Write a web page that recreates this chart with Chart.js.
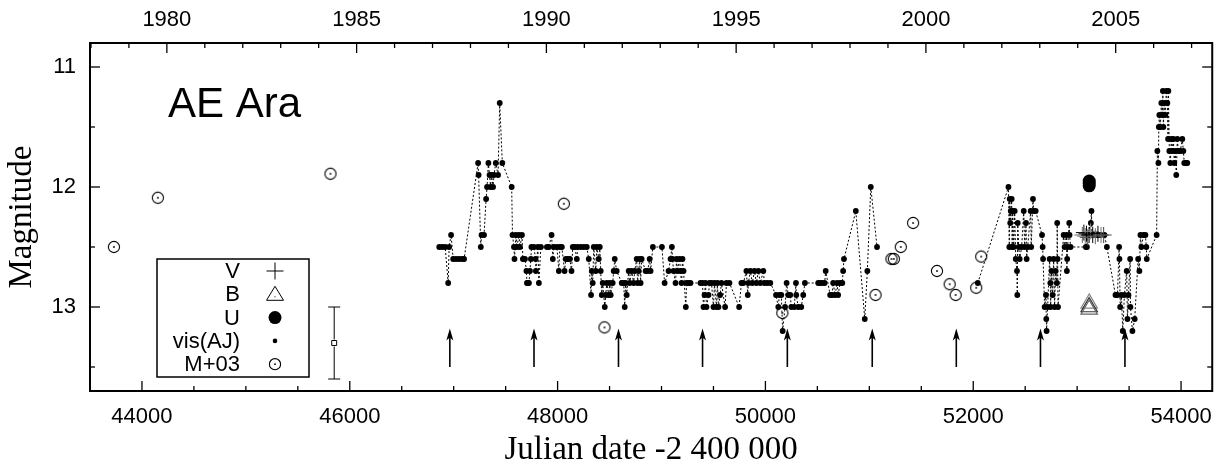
<!DOCTYPE html>
<html>
<head>
<meta charset="utf-8">
<script src="https://cdn.jsdelivr.net/npm/chart.js@4.4.1/dist/chart.umd.min.js"></script>
<style>
html, body { margin: 0; padding: 0; background: #fff; }
#wrap { width: 1225px; height: 467px; }
</style>
</head>
<body>
<div id="wrap"><canvas id="lc" width="1225" height="467"></canvas></div>
<script>
// visual estimates, JD - 2400000 and magnitude; null marks a break in the line
const visJD = [
  46861, 46889, 46918, 46947, 46956, 46975, 46995, 47023, 47052, 47081, 47100,
  47235, 47240, 47261, 47268, 47292, 47312, 47321, 47334, 47345, 47355, 47364, 47379, 47388, 47405, 47427, 47443, 47468,
  47558, 47566, 47580, 47585, 47599, 47609, 47628, 47638, 47657, 47666, 47686, 47700, 47705, 47714, 47724, 47734, 47743,
  47748, 47772, 47788, 47791, 47810, 47820, 47839,
  47897, 47916, 47942, 47954, 47964, 47993, 48012, 48022, 48041, 48067, 48079, 48098, 48118, 48134, 48146, 48166, 48185,
  48194, 48223, 48252, 48281, 48300, 48322, 48329, 48338, 48348, 48367, 48377, 48396, 48406,
  48415, 48425, 48434, 48454, 48463, 48473, 48492, 48502, 48511, 48530, 48540, 48550, 48569, 48617, 48636, 48646, 48655,
  48665, 48684, 48694, 48713, 48732, 48742, 48761, 48770, 48780, 48790, 48799, 48809, 48847, 48866, 48886, 48895, 48917,
  49004, 49030, 49068, 49087, 49100, 49106, 49116, 49135, 49145, 49154, 49174, 49183, 49193, 49202, 49212, 49234, 49241,
  49260, 49279,
  49375, 49394, 49404, 49414, 49423, 49433, 49452, 49462, 49481, 49500, 49510, 49529, 49538, 49548, 49564, 49577, 49612,
  49625, 49654, 49747, 49769, 49788, 49817, 49830, 49836, 49855, 49874, 49894, 49913, 49932, 49951, 49980, 49990, 50018,
  50047, 50102,
  50124, 50134, 50153, 50166, 50189, 50204, 50220, 50239, 50249, 50278, 50294, 50297, 50316, 50345, 50364, 50380, 50508,
  50527, 50546, 50570, 50580, 50623, 50642, 50652, 50671, 50690, 50700, 50719, 50740, 50748, 50756, 50870, 50956, 50981,
  51014, 51074, null,
  52044, 52339, 52347, 52351, 52356, 52361, 52370, 52375, 52380, 52390, 52399, 52409, 52421, 52424, 52428, 52438, 52447,
  52466, 52486, 52495, 52508, 52514, 52524, 52553, 52558, 52575, 52582, 52601, 52662, 52668, 52672, 52687, 52700, 52703,
  52706, 52716, 52735, 52742, 52745, 52754, 52764, 52774, 52783, 52793, 52805, 52808, 52812, 52816, 52870, 52879, 52898,
  52901, 52904, 52908, 52924, 52927, 52937, 53084,
  53094, 53100, 53132, 53138, 53142, 53167, 53196, 53225, 53263, 53286, 53369, 53388, 53404, 53407, 53414, 53426, 53439,
  53455, 53477, 53484, 53494, 53510, 53513, 53532, 53554, 53587, 53599, 53609, 53618, 53638, 53657, 53666, 53670, 53765,
  53772, 53782, 53786, 53791, 53801, 53810, 53820, 53825, 53830, 53839, 53849, 53858, 53868, 53875, 53878, 53887, 53897,
  53906, 53916, 53926, 53935, 53945, 53954, 53964, 53974, 53993, 54012, 54022, 54031, 54050, 54060
];
const visMag = [
  12.5, 12.5, 12.5, 12.8, 12.5, 12.4, 12.6, 12.6, 12.6, 12.6, 12.6,
  11.8, 11.9, 12.5, 12.4, 12.4, 12.1, 12.0, 11.8, 11.9, 12.0, 11.9, 12.0, 11.9, 11.8, 11.9, 11.3, 11.8,
  12.0, 12.4, 12.5, 12.6, 12.4, 12.5, 12.4, 12.5, 12.4, 12.6, 12.6, 12.7, 12.8, 12.8, 12.8, 12.7, 12.6,
  12.5, 12.5, 12.6, 12.7, 12.5, 12.8, 12.5,
  12.5, 12.5, 12.4, 12.6, 12.5, 12.5, 12.7, 12.5, 12.5, 12.7, 12.6, 12.6, 12.6, 12.7, 12.5, 12.5, 12.6,
  12.5, 12.5, 12.5, 12.5, 12.6, 12.9, 12.7, 12.8, 12.5, 12.7, 12.5, 12.6, 12.5,
  12.7, 12.9, 12.8, 13.0, 12.9, 12.8, 12.9, 12.8, 12.9, 12.8, 12.7, 12.6, 12.7, 12.8, 12.8, 13.0, 12.8,
  12.9, 12.7, 12.8, 12.7, 12.8, 12.7, 12.6, 12.8, 12.7, 12.6, 12.8, 12.6, 12.7, 12.7, 12.6, 12.7, 12.5,
  12.5, 12.8, 12.7, 12.6, 12.5, 12.6, 12.7, 12.8, 12.6, 12.7, 12.6, 12.7, 12.8, 12.6, 12.7, 13.0, 12.8,
  12.8, 12.8,
  12.8, 12.8, 13.0, 12.9, 12.8, 13.0, 12.9, 12.8, 12.8, 13.0, 12.8, 13.0, 12.8, 13.0, 12.9, 12.8, 13.0,
  12.8, 12.8, 13.0, 12.8, 12.8, 12.7, 12.9, 12.8, 12.7, 12.8, 12.7, 12.8, 12.7, 12.8, 12.7, 12.8, 12.8,
  12.8, 12.9,
  13.0, 12.9, 12.9, 13.2, 13.0, 12.8, 12.9, 12.9, 13.0, 13.0, 12.8, 12.9, 13.0, 13.0, 12.9, 12.8, 12.8,
  12.8, 12.8, 12.8, 12.7, 12.9, 12.9, 12.8, 12.9, 12.8, 12.9, 12.8, 12.8, 12.7, 12.6, 12.2, 13.1, 12.7,
  12.0, 12.5, null,
  12.8, 12.0, 12.5, 12.1, 12.3, 12.2, 12.1, 12.5, 12.2, 12.5, 12.2, 12.6, 12.7, 12.9, 12.3, 12.5, 12.6,
  12.5, 12.2, 12.5, 12.3, 12.6, 12.5, 12.2, 12.5, 12.1, 12.2, 12.2, 12.4, 12.5, 12.6, 13.0, 12.9, 13.1,
  13.2, 13.0, 12.6, 12.8, 13.0, 12.7, 12.9, 12.6, 13.0, 12.7, 12.8, 12.3, 12.6, 13.0, 12.4, 12.5, 12.4,
  12.7, 12.6, 12.5, 12.3, 12.4, 12.5, 12.5,
  12.5, 12.4, 12.3, 12.2, 12.4, 12.4, 12.4, 12.4, 12.4, 12.5, 12.9, 12.9, 12.5, 12.6, 13.0, 12.9, 13.2,
  12.9, 12.7, 13.1, 12.9, 12.6, 13.0, 13.2, 13.1, 12.6, 12.7, 12.4, 12.5, 12.4, 12.4, 12.5, 12.6, 12.4,
  11.7, 11.8, 11.5, 11.4, 11.5, 11.3, 11.4, 11.2, 11.5, 11.3, 11.4, 11.2, 11.3, 11.6, 11.2, 11.7, 11.8,
  11.6, 11.7, 11.6, 11.8, 11.7, 11.9, 11.6, 11.7, 11.7, 11.6, 11.7, 11.8, 11.8, 11.8
];

// M+03 photometry
const m03JD = [43730, 44153, 45814, 48060, 48451, 50163, 51060, 51213, 51236, 51303, 51421, 51651, 51773, 51831, 52029, 52077];
const m03Mag = [12.5, 12.09, 11.89, 12.14, 13.17, 13.05, 12.9, 12.6, 12.6, 12.5, 12.3, 12.7, 12.81, 12.9, 12.84, 12.58];

// V, B, U photometry
const vJD = [53050, 53065, 53078, 53090, 53102, 53115, 53130, 53150, 53175, 53200, 53230, 53255];
const vMag = [12.4, 12.38, 12.41, 12.39, 12.42, 12.4, 12.37, 12.4, 12.41, 12.39, 12.4, 12.4];
const bJD = [53116, 53116, 53116];
const bMag = [12.97, 13.0, 13.02];
const uJD = [53116, 53116, 53116];
const uMag = [11.95, 11.97, 11.99];

// single point with error bar
const errJD = [45850];
const errMag = [13.3];
const errMin = [13.0];
const errMax = [13.6];

// arrows
const arrowJD = [46963, 47773, 48586, 49395, 50211, 51028, 51837, 52647, 53460];
const arrowFrom = 13.5;
const arrowTo = 13.18;

// tick labels
const jdTicks = [44000, 46000, 48000, 50000, 52000, 54000];
const yearTicks = [1980, 1985, 1990, 1995, 2000, 2005];
const magTicks = [11, 12, 13];

const starName = 'AE Ara';
const legendLabels = ['V', 'B', 'U', 'vis(AJ)', 'M+03'];

const sans = '"Liberation Sans", Arial, Helvetica, sans-serif';
const serif = '"Liberation Serif", "Times New Roman", Times, serif';

// circle with a dot in it, used for M+03
function drawCircleDot(ctx, x, y) {
    ctx.beginPath();
    ctx.arc(x, y, 5.6, 0, 2 * Math.PI);
    ctx.lineWidth = 1.1;
    ctx.strokeStyle = '#000';
    ctx.stroke();
    ctx.beginPath();
    ctx.arc(x, y, 0.9, 0, 2 * Math.PI);
    ctx.fillStyle = '#000';
    ctx.fill();
}
const circleDot = document.createElement('canvas');
circleDot.width = 16;
circleDot.height = 16;
drawCircleDot(circleDot.getContext('2d'), 8, 8);

function pairs(xs, ys) {
    return xs.map((x, i) => ({ x: x, y: ys[i] }));
}

function fixedTicks(values) {
    return scale => { scale.ticks = values.map(v => ({ value: v })); };
}

// arrows, error bar, frame with inward ticks, legend box and star name
const overlay = {
    id: 'overlay',
    afterDatasetsDraw(chart) {
        const { ctx, chartArea: a, scales } = chart;
        const x = scales.x, y = scales.y, yr = scales.x2;
        const line = (x0, y0, x1, y1) => {
            ctx.beginPath();
            ctx.moveTo(x0, y0);
            ctx.lineTo(x1, y1);
            ctx.stroke();
        };
        ctx.save();
        ctx.strokeStyle = '#000';
        ctx.fillStyle = '#000';

        // arrows
        ctx.lineWidth = 1.6;
        arrowJD.forEach(jd => {
            const px = x.getPixelForValue(jd);
            const y0 = y.getPixelForValue(arrowFrom);
            const y1 = y.getPixelForValue(arrowTo);
            line(px, y0, px, y1 + 6);
            ctx.beginPath();
            ctx.moveTo(px, y1);
            ctx.lineTo(px - 3.5, y1 + 12);
            ctx.lineTo(px, y1 + 9);
            ctx.lineTo(px + 3.5, y1 + 12);
            ctx.closePath();
            ctx.fill();
        });

        // error bar
        ctx.lineWidth = 1;
        errJD.forEach((jd, i) => {
            const px = x.getPixelForValue(jd);
            const pLo = y.getPixelForValue(errMin[i]);
            const pHi = y.getPixelForValue(errMax[i]);
            const pc = y.getPixelForValue(errMag[i]);
            line(px, pLo, px, pc - 3.5);
            line(px, pc + 3.5, px, pHi);
            line(px - 6, pLo, px + 6, pLo);
            line(px - 6, pHi, px + 6, pHi);
        });

        // frame
        ctx.lineWidth = 2;
        ctx.strokeRect(a.left, a.top, a.right - a.left, a.bottom - a.top);

        // inward ticks
        ctx.lineWidth = 1.3;
        for (let v = Math.ceil(x.min / 500) * 500; v <= x.max; v += 500) {
            const p = x.getPixelForValue(v);
            line(p, a.bottom, p, a.bottom - (v % 2000 === 0 ? 10 : 5));
        }
        for (let v = Math.ceil(yr.min); v <= yr.max; v += 1) {
            const p = yr.getPixelForValue(v);
            line(p, a.top, p, a.top + (v % 5 === 0 ? 10 : 5));
        }
        for (let v = Math.ceil(y.min * 2) / 2; v <= y.max; v += 0.5) {
            const p = y.getPixelForValue(v);
            const len = Number.isInteger(v) ? 10 : 5;
            line(a.left, p, a.left + len, p);
            line(a.right, p, a.right - len, p);
        }

        // star name
        ctx.font = '42px ' + sans;
        ctx.textAlign = 'left';
        ctx.textBaseline = 'alphabetic';
        ctx.fillText(starName, a.left + 78, a.top + 74);

        // legend
        const lx = a.left + 67, ly = a.top + 216;
        ctx.lineWidth = 1.5;
        ctx.strokeRect(lx, ly, 152, 118);
        ctx.font = '22px ' + sans;
        ctx.textAlign = 'right';
        ctx.textBaseline = 'middle';
        const sx = lx + 118;
        legendLabels.forEach((lab, i) => {
            const cy = ly + 12 + i * 23.3;
            ctx.fillStyle = '#000';
            ctx.fillText(lab, lx + 83, cy + 1);
            ctx.lineWidth = 1;
            if (i === 0) {
                line(sx - 8.5, cy, sx + 8.5, cy);
                line(sx, cy - 8.5, sx, cy + 8.5);
            } else if (i === 1) {
                ctx.beginPath();
                ctx.moveTo(sx, cy - 8);
                ctx.lineTo(sx + 8.5, cy + 6);
                ctx.lineTo(sx - 8.5, cy + 6);
                ctx.closePath();
                ctx.stroke();
                ctx.fillRect(sx - 0.5, cy + 2, 1, 1);
            } else if (i === 2) {
                ctx.beginPath();
                ctx.arc(sx, cy, 6.5, 0, 2 * Math.PI);
                ctx.fill();
            } else if (i === 3) {
                ctx.beginPath();
                ctx.arc(sx, cy, 2.3, 0, 2 * Math.PI);
                ctx.fill();
            } else {
                drawCircleDot(ctx, sx, cy);
            }
        });
        ctx.restore();
    }
};

new Chart(document.getElementById('lc'), {
    type: 'scatter',
    data: {
        datasets: [
            {
                label: 'V',
                data: pairs(vJD, vMag),
                pointStyle: 'cross',
                pointRadius: 8,
                pointBorderWidth: 1,
                pointBorderColor: ['#666', '#000', '#777', '#000', '#555', '#000', '#888', '#000', '#666', '#000', '#777', '#444']
            },
            {
                label: 'B',
                data: pairs(bJD, bMag),
                pointStyle: 'triangle',
                pointRadius: 9.5,
                pointBorderWidth: 1.2,
                pointBackgroundColor: 'rgba(0,0,0,0)',
                pointBorderColor: ['#888', '#333', '#666']
            },
            {
                label: 'U',
                data: pairs(uJD, uMag),
                pointRadius: 6.5,
                pointBorderWidth: 0,
                pointBackgroundColor: '#000'
            },
            {
                label: 'vis(AJ)',
                data: pairs(visJD, visMag),
                showLine: true,
                spanGaps: false,
                borderColor: '#000',
                borderWidth: 1,
                borderDash: [2, 2],
                pointRadius: 2.9,
                pointBorderWidth: 0,
                pointBackgroundColor: '#000'
            },
            {
                label: 'M+03',
                data: pairs(m03JD, m03Mag),
                pointStyle: circleDot,
                pointRadius: 6
            },
            {
                label: 'error',
                data: pairs(errJD, errMag),
                pointStyle: 'rect',
                pointRadius: 3.5,
                pointBorderWidth: 1,
                pointBorderColor: '#000',
                pointBackgroundColor: 'rgba(0,0,0,0)'
            }
        ]
    },
    options: {
        responsive: false,
        animation: false,
        events: [],
        layout: { padding: { left: 0, right: 10, top: 0, bottom: 0 } },
        plugins: { legend: { display: false }, tooltip: { enabled: false } },
        scales: {
            x: {
                type: 'linear',
                position: 'bottom',
                min: 43500,
                max: 54300,
                afterBuildTicks: fixedTicks(jdTicks),
                afterFit: s => { s.height = 76; },
                grid: { display: false, drawTicks: false },
                border: { display: false },
                ticks: {
                    padding: 13,
                    color: '#000',
                    maxRotation: 0,
                    autoSkip: false,
                    font: { family: sans, size: 22 },
                    callback: v => String(v)
                },
                title: {
                    display: true,
                    text: 'Julian date -2 400 000',
                    color: '#000',
                    font: { family: serif, size: 33 },
                    padding: { top: 0, bottom: -3 }
                }
            },
            x2: {
                type: 'linear',
                position: 'top',
                min: 1977.975,
                max: 2007.544,
                afterBuildTicks: fixedTicks(yearTicks),
                afterFit: s => { s.height = 43; },
                grid: { display: false, drawTicks: false },
                border: { display: false },
                ticks: {
                    padding: 10,
                    color: '#000',
                    maxRotation: 0,
                    autoSkip: false,
                    font: { family: sans, size: 22 },
                    callback: v => String(v)
                }
            },
            y: {
                type: 'linear',
                position: 'left',
                reverse: true,
                min: 10.8,
                max: 13.7,
                afterBuildTicks: fixedTicks(magTicks),
                afterFit: s => { s.width = 90; },
                grid: { display: false, drawTicks: false },
                border: { display: false },
                ticks: {
                    padding: 14,
                    color: '#000',
                    font: { family: sans, size: 22 },
                    callback: v => String(v)
                },
                title: {
                    display: true,
                    text: 'Magnitude',
                    color: '#000',
                    font: { family: serif, size: 33 },
                    padding: { top: 3, bottom: 0 }
                }
            }
        }
    },
    plugins: [overlay]
});
</script>
</body>
</html>
